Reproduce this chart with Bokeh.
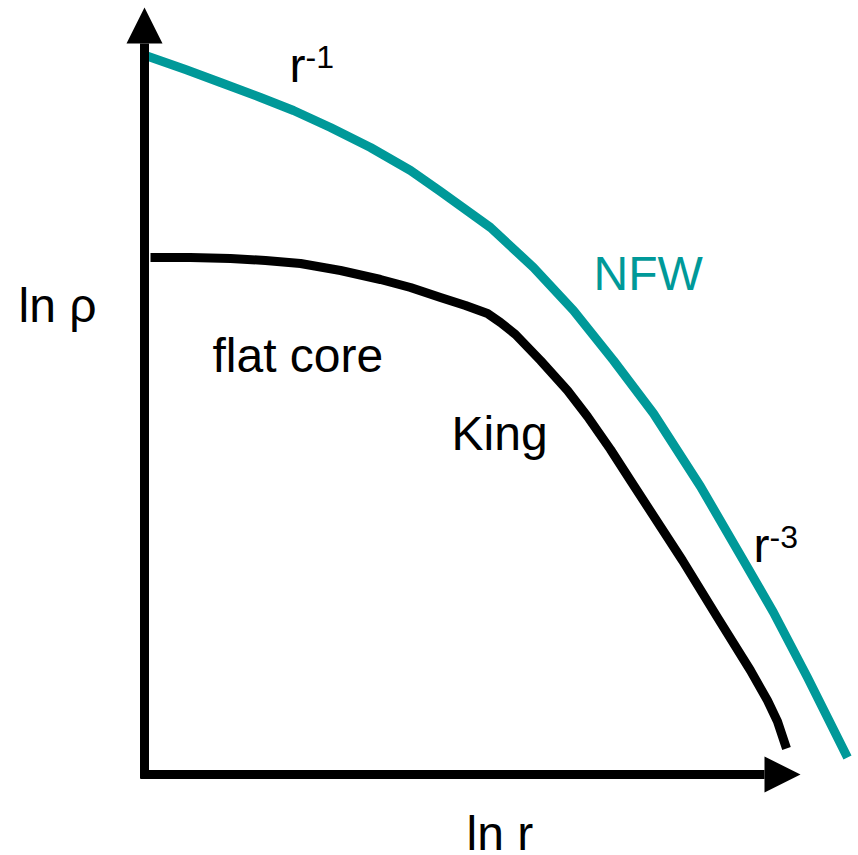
from bokeh.plotting import figure
from bokeh.models import Range1d, Arrow, NormalHead
from bokeh.core.properties import value
from bokeh.embed import file_html
from bokeh.resources import INLINE

# NFW profile (ln r, ln rho), schematic units
nfw_x = [0.00, 0.40, 0.75, 1.15, 1.48, 1.85, 2.25, 2.65, 2.95, 3.45, 3.88, 4.28, 4.68, 5.08, 5.55, 5.98, 6.28, 6.62, 7.02]
nfw_y = [7.19, 7.05, 6.92, 6.77, 6.64, 6.47, 6.27, 6.04, 5.83, 5.47, 5.07, 4.64, 4.14, 3.61, 2.88, 2.14, 1.62, 0.97, 0.17]

# King profile
king_x = [0.05, 0.45, 0.85, 1.20, 1.55, 1.95, 2.35, 2.65, 2.95, 3.20, 3.42, 3.55, 3.70, 3.95, 4.22, 4.42, 4.65, 4.85, 5.37, 5.72, 6.05, 6.22, 6.32, 6.41]
king_y = [5.17, 5.17, 5.16, 5.14, 5.11, 5.04, 4.95, 4.87, 4.77, 4.69, 4.61, 4.52, 4.40, 4.14, 3.84, 3.58, 3.25, 2.94, 2.14, 1.57, 1.04, 0.74, 0.53, 0.26]

# axis extents
x_axis_start, x_axis_end = -0.05, 6.55
y_axis_start, y_axis_end = -0.04, 7.67

# labels
big_text = ["ln \u03c1", "flat core", "King", "r", "r", "ln r"]
big_x = [-1.27, 0.67, 3.06, 1.44, 6.08, 3.21]
big_y = [4.69, 4.19, 3.41, 7.09, 2.29, -0.59]
sup_text = ["-1", "-3"]
sup_x = [1.60, 6.24]
sup_y = [7.18, 2.38]
nfw_label = ["NFW"]
nfw_lx = [4.48]
nfw_ly = [5.01]

TEAL = "#009999"
FONT = value("Liberation Sans")

p = figure(width=858, height=855, output_backend="svg", toolbar_location=None,
           x_range=Range1d(-1.45, 7.13), y_range=Range1d(-0.81, 7.74),
           min_border=0, outline_line_color=None)
p.axis.visible = False
p.grid.visible = False
p.background_fill_color = "white"
p.border_fill_color = "white"

p.line(nfw_x, nfw_y, line_color=TEAL, line_width=9, line_join="round")
p.line(king_x, king_y, line_color="black", line_width=9, line_join="round")

p.add_layout(Arrow(end=NormalHead(size=36, fill_color="black", line_color="black", line_width=0),
                   x_start=-0.01, y_start=y_axis_start, x_end=-0.01, y_end=y_axis_end,
                   line_width=9, line_color="black"))
p.add_layout(Arrow(end=NormalHead(size=36, fill_color="black", line_color="black", line_width=0),
                   x_start=x_axis_start, y_start=0, x_end=x_axis_end, y_end=0,
                   line_width=9, line_color="black"))

p.text(x=big_x, y=big_y, text=big_text, text_font=FONT, text_font_size="48px",
       text_color="black", text_align="left", text_baseline="alphabetic")
p.text(x=sup_x, y=sup_y, text=sup_text, text_font=FONT, text_font_size="32px",
       text_color="black", text_align="left", text_baseline="alphabetic")
p.text(x=nfw_lx, y=nfw_ly, text=nfw_label, text_font=FONT, text_font_size="48px",
       text_color=TEAL, text_align="left", text_baseline="alphabetic")

open("out.html", "w").write(file_html(p, INLINE))
